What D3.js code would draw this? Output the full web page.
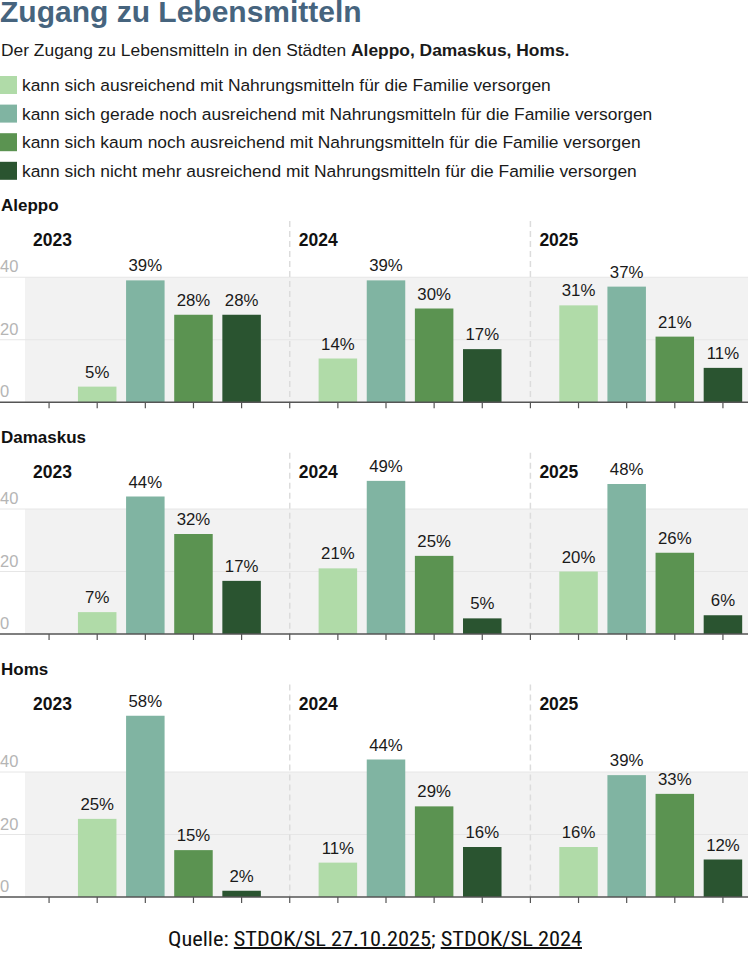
<!DOCTYPE html>
<html lang="de">
<head>
<meta charset="UTF-8" />
<title>Zugang zu Lebensmitteln</title>
<script src="https://d3js.org/d3.v7.min.js"></script>
<style>
    body {
        margin: 0;
        background: #fff;
        font-family: "Liberation Sans", Arial, sans-serif;
    }
    svg text {
        font-family: "Liberation Sans", Arial, sans-serif;
    }
    svg text.footer {
        font-family: "Liberation Sans Narrow", "Roboto Condensed", "DejaVu Sans Condensed", sans-serif;
    }
</style>
</head>
<body>
<svg id="chart" width="750" height="961"></svg>
<script>
    // Data
    var cities = ["Aleppo", "Damaskus", "Homs"];
    var years = ["2023", "2024", "2025"];
    var categories = [
        "kann sich ausreichend mit Nahrungsmitteln für die Familie versorgen",
        "kann sich gerade noch ausreichend mit Nahrungsmitteln für die Familie versorgen",
        "kann sich kaum noch ausreichend mit Nahrungsmitteln für die Familie versorgen",
        "kann sich nicht mehr ausreichend mit Nahrungsmitteln für die Familie versorgen"
    ];
    var colors = ["#b0dba8", "#80b4a2", "#5b9351", "#2a5430"];
    // values[year][category] per city
    var aleppo   = [[5, 39, 28, 28], [14, 39, 30, 17], [31, 37, 21, 11]];
    var damaskus = [[7, 44, 32, 17], [21, 49, 25, 5],  [20, 48, 26, 6]];
    var homs     = [[25, 58, 15, 2], [11, 44, 29, 16], [16, 39, 33, 12]];
    var cityValues = [aleppo, damaskus, homs];
    var yTicks = [0, 20, 40];

    var w = 750;
    var pxPerUnit = 3.125;   // same vertical scale in every panel
    var svg = d3.select("#chart");

    // Title (cut at the top edge, as in the original)
    svg.append("text")
        .attr("x", 0).attr("y", 22)
        .attr("fill", "#46647e")
        .style("font-size", "30px")
        .style("font-weight", "bold")
        .text("Zugang zu Lebensmitteln");

    var sub = svg.append("text")
        .attr("x", 1).attr("y", 56)
        .attr("fill", "#1a1a1a")
        .style("font-size", "17.4px");
    sub.append("tspan").text("Der Zugang zu Lebensmitteln in den Städten ");
    sub.append("tspan").style("font-weight", "bold").text(cities.join(", ") + ".");

    // Legend
    var legend = svg.append("g").selectAll("g")
        .data(categories)
        .enter().append("g")
        .attr("transform", (d, i) => "translate(0," + (76 + i * 28.6) + ")");
    legend.append("rect")
        .attr("width", 17).attr("height", 18)
        .attr("fill", (d, i) => colors[i]);
    legend.append("text")
        .attr("x", 22).attr("y", 15)
        .attr("fill", "#1a1a1a")
        .style("font-size", "17.4px")
        .text(d => d);

    // x scale: 15 slots, first slot of every year stays empty
    var slots = d3.range(years.length * (categories.length + 1));
    var xScale = d3.scaleBand()
        .domain(slots)
        .range([25, 747])
        .paddingInner(0.2)
        .paddingOuter(0.1);
    var slotCenter = s => xScale(s) + xScale.bandwidth() / 2;

    var titleY = 211;
    cityValues.forEach(function (vals, c) {
        var maxVal = d3.max(vals, d => d3.max(d));
        var yMax = Math.max(50, Math.ceil(maxVal / 10) * 10);
        var top = titleY + 35;
        var base = top + yMax * pxPerUnit;

        var yScale = d3.scaleLinear()
            .domain([0, yMax])
            .range([base, top]);

        var g = svg.append("g");

        // panel title
        g.append("text")
            .attr("x", 1).attr("y", titleY)
            .attr("fill", "#111")
            .style("font-size", "17px")
            .style("font-weight", "bold")
            .text(cities[c]);

        // grey band 0..40
        g.append("rect")
            .attr("x", 25).attr("width", w - 2 - 25)
            .attr("y", yScale(40))
            .attr("height", yScale(0) - yScale(40))
            .attr("fill", "#f2f2f2");

        // gridlines
        g.selectAll(".grid")
            .data(yTicks.filter(t => t > 0))
            .enter().append("line")
            .attr("x1", 0).attr("x2", w - 2)
            .attr("y1", d => yScale(d)).attr("y2", d => yScale(d))
            .attr("stroke", "#e6e6e6")
            .attr("stroke-width", 1);

        // y tick labels
        g.selectAll(".ylab")
            .data(yTicks)
            .enter().append("text")
            .attr("x", 0).attr("y", d => yScale(d) - 5)
            .attr("fill", "#b5b5b5")
            .style("font-size", "16.5px")
            .text(d => d);

        // year separators
        g.selectAll(".sep")
            .data(years.slice(1))
            .enter().append("line")
            .attr("x1", (d, i) => slotCenter((i + 1) * 5))
            .attr("x2", (d, i) => slotCenter((i + 1) * 5))
            .attr("y1", titleY + 10).attr("y2", base)
            .attr("stroke", "#dcdcdc")
            .attr("stroke-width", 1.5)
            .attr("stroke-dasharray", "6,4");

        // year labels
        g.selectAll(".year")
            .data(years)
            .enter().append("text")
            .attr("x", (d, i) => i === 0 ? xScale.range()[0] + 8 : slotCenter(i * 5) + 9)
            .attr("y", top)
            .attr("fill", "#111")
            .style("font-size", "17.5px")
            .style("font-weight", "bold")
            .text(d => d);

        // bars
        var flat = [];
        vals.forEach(function (row, yi) {
            row.forEach(function (v, ci) {
                flat.push({ slot: yi * 5 + ci + 1, cat: ci, value: v });
            });
        });

        g.selectAll(".bar")
            .data(flat)
            .enter().append("rect")
            .attr("x", d => xScale(d.slot))
            .attr("width", xScale.bandwidth())
            .attr("y", d => yScale(d.value))
            .attr("height", d => base - yScale(d.value))
            .attr("fill", d => colors[d.cat]);

        g.selectAll(".val")
            .data(flat)
            .enter().append("text")
            .attr("x", d => slotCenter(d.slot))
            .attr("y", d => yScale(d.value) - 9)
            .attr("text-anchor", "middle")
            .attr("fill", "#1a1a1a")
            .style("font-size", "16.8px")
            .text(d => d.value + "%");

        // x axis
        var axis = g.append("g")
            .attr("transform", "translate(0," + base + ")")
            .call(d3.axisBottom(xScale).tickSize(6).tickFormat(""));
        axis.select(".domain").remove();
        axis.selectAll(".tick line").attr("stroke", "#555").attr("stroke-width", 1.2);
        g.append("line")
            .attr("x1", 0).attr("x2", w - 2)
            .attr("y1", base).attr("y2", base)
            .attr("stroke", "#555")
            .attr("stroke-width", 1.5);

        titleY = base + 40.5;
    });

    // Source
    var foot = svg.append("text")
        .attr("class", "footer")
        .attr("x", 375).attr("y", 946)
        .attr("text-anchor", "middle")
        .attr("fill", "#111")
        .attr("textLength", 414)
        .attr("lengthAdjust", "spacingAndGlyphs")
        .style("font-size", "20px");
    foot.append("tspan").text("Quelle: ");
    foot.append("tspan").style("text-decoration", "underline").text("STDOK/SL 27.10.2025");
    foot.append("tspan").text("; ");
    foot.append("tspan").style("text-decoration", "underline").text("STDOK/SL 2024");
</script>
</body>
</html>
